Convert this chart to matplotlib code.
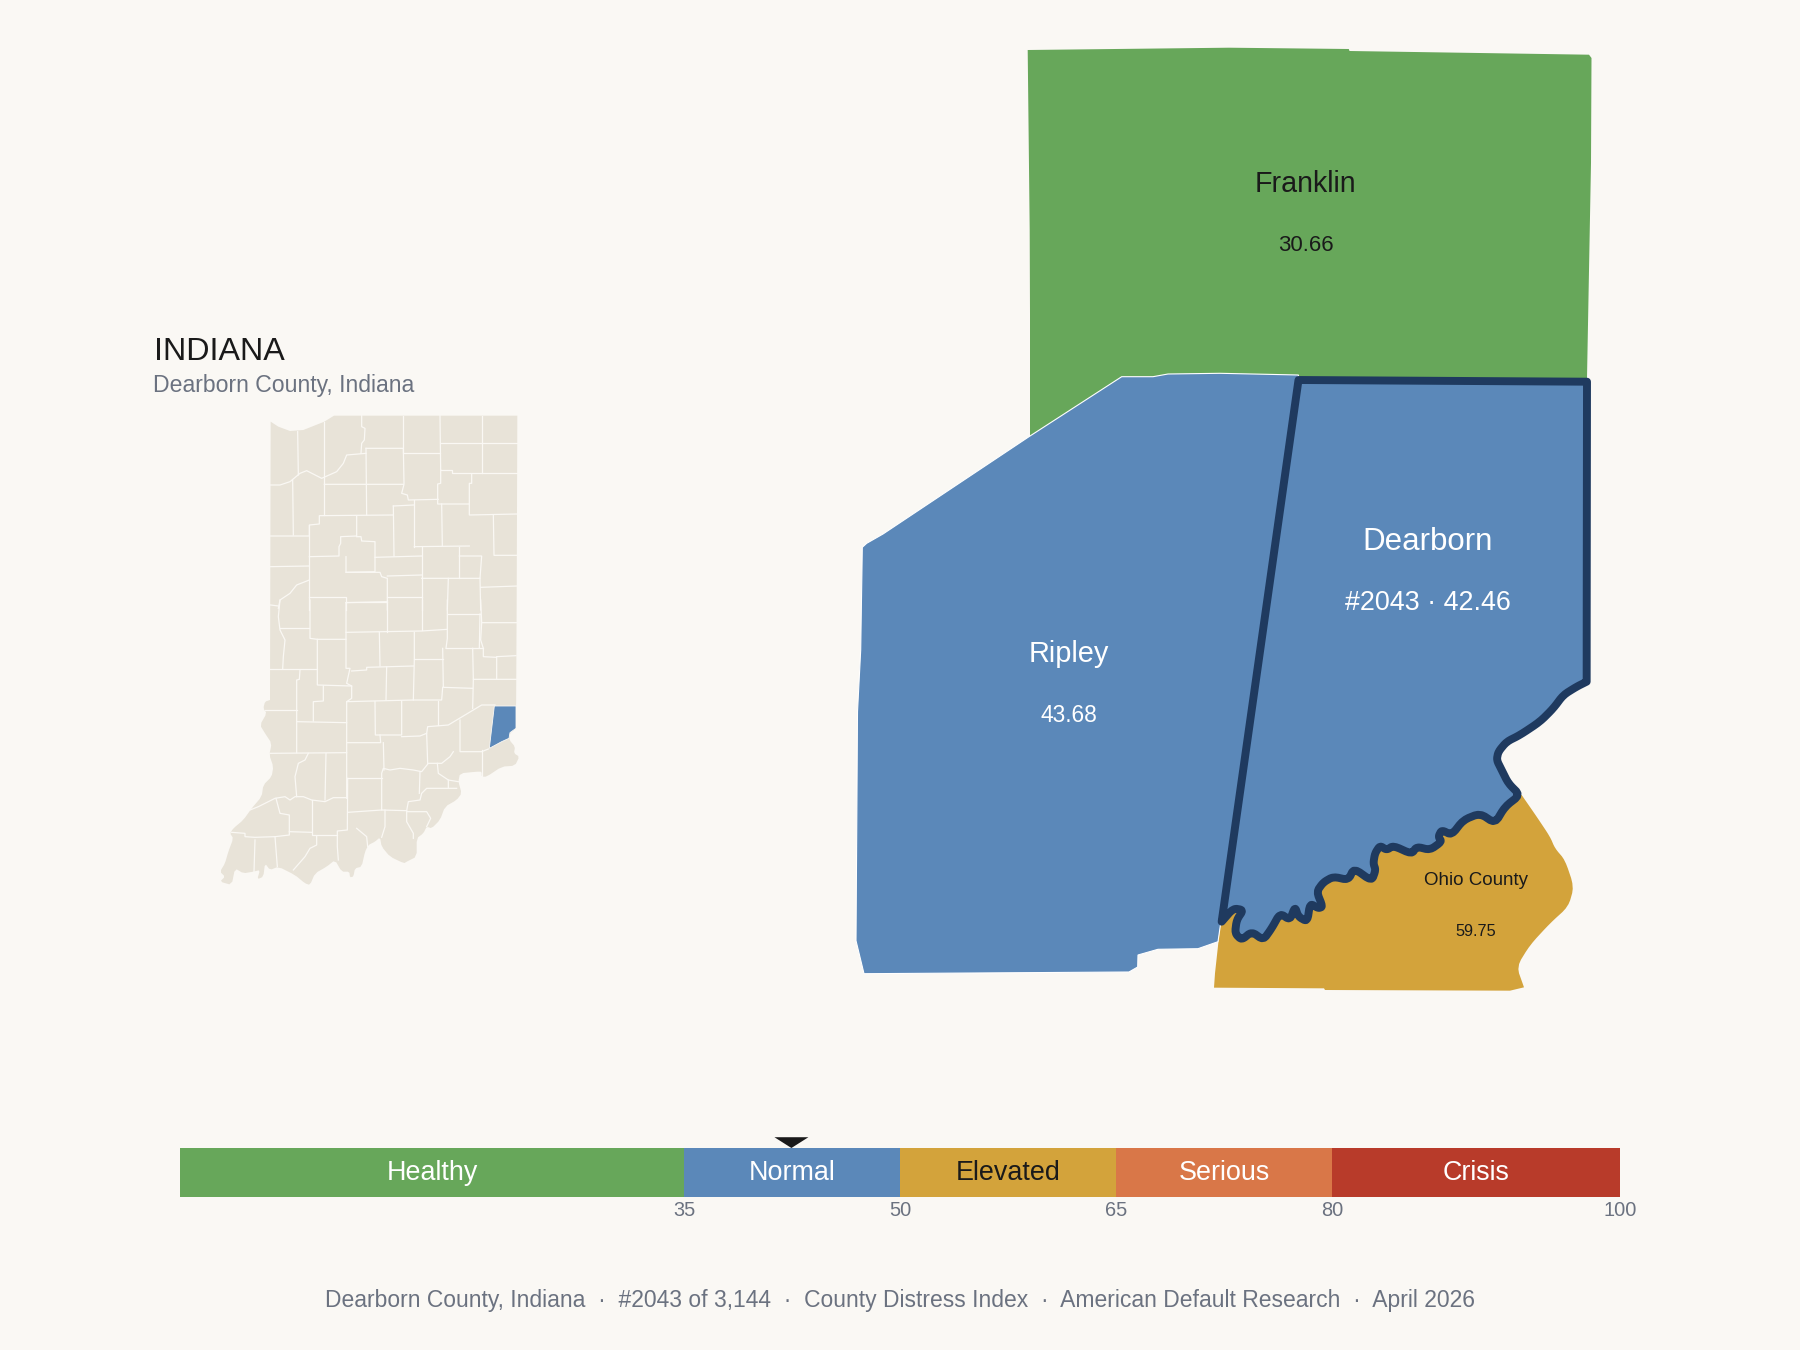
import matplotlib
matplotlib.use("Agg")
import matplotlib.pyplot as plt

plt.rcParams['font.family'] = ['Liberation Sans', 'DejaVu Sans']

BG = '#FAF8F4'; LAND = '#E8E3D8'; GREEN = '#67A75A'; BLUE = '#5B88B9'; GOLD = '#D3A33B'
ORANGE = '#D97748'; RED = '#B83B2A'; NAVY = '#1F3A5F'; INK = '#1A1A1A'; GRAY = '#6B7280'

# ---------- score scale ----------
band_edges = [0, 35, 50, 65, 80, 100]
band_names = ['Healthy', 'Normal', 'Elevated', 'Serious', 'Crisis']
band_colors = [GREEN, BLUE, GOLD, ORANGE, RED]
band_text = ['white', 'white', INK, 'white', 'white']
tick_values = [35, 50, 65, 80, 100]
county_score = 42.46

# ---------- neighbouring counties (map units) ----------
franklin = [(1027.7,50),(1229,47.7),(1348.8,49),(1349.5,51),(1589,54.7),(1591.5,58),(1591,163),(1587,378),
            (1587,392),(1300,392),(1121,392),(1030,437),(1030,313),(1029.7,230)]
ripley = [(1030,436),(1121.7,376.7),(1153,376.7),(1168,374),(1220,373.3),(1298.5,375),(1221,921),(1218,941.7),
          (1198,948.7),(1158,949.3),(1138,955),(1137.7,967),(1129,972),(864,973.7),(856,940.7),(857.5,711.8),
          (860.7,650),(862.3,547.3),(866.7,543.3),(883,534)]
# river edge of Dearborn, traced on a 3x crop
river_crop = [(1160,5),(1130,20),(1090,45),(1060,85),(1020,125),(960,165),(920,185),(895,215),(890,240),(905,270),
              (925,310),(960,345),(915,380),(885,430),(840,400),(790,420),(755,465),(725,450),(715,470),(725,485),
              (690,510),(650,500),(635,522),(580,497),(560,510),(540,497),(525,520),(520,550),(527,570),(515,603),
              (462,565),(445,600),(400,590),(370,607),(350,635),(368,680),(355,685),(330,670),(322,725),(295,710),
              (285,680),(270,720),(240,700),(215,745),(190,780),(155,755),(125,780),(105,760),(110,720),(130,690),
              (100,685),(65,725)]
ohio_east_crop = [(965,345),(1010,410),(1050,470),(1065,505),(1095,540),(1122,620),(1105,680),(1050,730),(990,795),
                  (950,860),(972,922)]
ohio_south_crop = [(930,932),(375,930),(372,925),(42,923),(45,880),(62,725),(400,400)]
dearborn_top = [(1298.5,380),(1587,381.7),(1586.7,620)]

def from_crop(pts, x0, y0):
    return [(x0 + x / 3, y0 + y / 3) for x, y in pts]

def soften(pts, rounds=1):
    """Round the corners of a hand-traced outline, keeping its end points."""
    for _ in range(rounds):
        out = [pts[0]]
        for (x0, y0), (x1, y1) in zip(pts[:-1], pts[1:]):
            out.append((0.8 * x0 + 0.2 * x1, 0.8 * y0 + 0.2 * y1))
            out.append((0.2 * x0 + 0.8 * x1, 0.2 * y0 + 0.8 * y1))
        out.append(pts[-1])
        pts = out
    return pts

river = soften(from_crop(river_crop, 1200, 680), 2)
ohio = soften(from_crop(ohio_east_crop, 1200, 680), 2) + from_crop(ohio_south_crop, 1200, 680)
dearborn = dearborn_top + river

labels = [('Franklin', '30.66', 1305.5, 181, 243, 20.6, 16.0, INK),
          ('Ripley', '43.68', 1069, 651, 712.5, 20.8, 16.4, 'white'),
          ('Dearborn', '#2043 · 42.46', 1427.5, 538, 600, 22.5, 19.4, 'white'),
          ('Ohio County', '59.75', 1476, 878.5, 930, 13.5, 11.7, INK)]

# ---------- Indiana locator (crops 3x) ----------
state_top = [(422,305),(445,320),(480,333),(520,330),(583,305),(612,287),(1162,287)]
state_bottom = [(950,0),(948,385),(930,400),(928,420),(945,440),(942,460),(958,470),(945,497),(905,500),(860,530),
    (845,530),(845,515),(830,515),(780,520),(775,545),(785,580),(770,600),(735,620),(720,660),(695,685),(680,680),
    (670,700),(650,715),(650,770),(620,785),(612,790),(570,770),(545,740),(540,712),(525,725),(505,735),(495,755),
    (485,800),(465,805),(460,830),(450,832),(448,815),(425,815),(405,780),(380,800),(345,820),(330,855),(315,850),
    (285,825),(235,800),(210,810),(195,790),(190,830),(172,838),(180,810),(160,815),(130,820),(105,805),(95,855),
    (60,845),(75,830),(60,815),(75,790),(85,755),(100,715),(90,700),(100,685),(130,660),(155,625),(185,590),(190,555),
    (215,530),(220,500),(208,465),(215,430),(195,400),(180,375),(200,340),(190,325),(195,305),(210,300)]
dearborn_small = [(883,318),(948,318),(948,385),(930,398),(927,415),(905,425),(868,445)]

lines_north = [
    [(503,335),(505,465)],
    [(422,495),(450,495),(480,485),(510,460),(530,452),(575,475),(620,455),(640,430),(650,405),(708,400)],
    [(583,305),(583,585)],
    [(695,287),(695,320),(705,325),(703,360),(695,370),(693,400)],
    [(820,287),(820,400)], [(930,287),(932,450)], [(1057,287),(1057,460)], [(932,368),(1162,368)],
    [(708,385),(820,385),(822,490)], [(822,400),(930,400)], [(708,385),(710,585)],
    [(583,493),(822,493),(815,520),(832,525),(835,540),(925,538)], [(853,540),(853,680)],
    [(932,450),(965,450),(965,460),(1162,460)],
    [(932,450),(932,490),(923,492),(923,552),(1018,552),(1018,490),(1025,490),(1025,462)],
    [(488,480),(490,645)],
    [(422,648),(538,648),(538,615),(568,612),(568,587),(790,585)],
    [(790,558),(850,555)], [(790,558),(792,708)],
    [(680,587),(680,648),(632,650),(632,670),(627,680),(627,708),(538,710)],
    [(538,615),(538,870)],
    [(680,650),(693,650),(695,663),(735,665),(735,755),(648,757),(648,710)],
    [(935,552),(937,678)], [(1018,552),(1018,585),(1162,582)], [(853,680),(1018,678)], [(875,680),(875,870)],
    [(988,680),(988,775)], [(1090,585),(1092,706),(1162,706)], [(988,708),(1055,708),(1050,775),(875,775)],
    [(735,712),(875,708)], [(648,757),(750,757),(755,770),(772,775),(772,870)],
    [(772,768),(875,765)], [(772,832),(875,832)], [(648,845),(772,845)], [(538,832),(648,832),(648,870)],
    [(422,740),(538,738)], [(538,780),(500,795),(480,820),(450,840),(445,865)], [(422,855),(445,858)],
    [(955,775),(952,870)], [(1050,775),(1052,870)], [(1052,802),(1162,798)],
]
lines_south = [
    [(240,0),(235,50),(240,90),(255,120),(250,170),(248,208)], [(240,85),(328,85)],
    [(330,0),(330,115),(352,118),(438,118)], [(438,8),(560,5)],
    [(438,8),(438,205),(450,205),(440,250),(455,258),(455,295),(440,305),(440,595)],
    [(562,0),(562,97)], [(665,0),(665,90)], [(742,0),(742,115),(738,145)], [(438,97),(665,93),(742,88)],
    [(743,42),(840,42)], [(842,0),(845,68),(950,68)], [(845,68),(842,120),(850,145),(850,170),(890,172),(890,238)],
    [(890,170),(948,167)], [(738,145),(850,145)], [(840,42),(838,145)], [(728,145),(730,262),(818,265)],
    [(818,145),(820,238),(950,238)], [(820,238),(818,325)], [(643,97),(643,178),(640,300)], [(643,178),(728,178)],
    [(538,97),(540,198)], [(455,213),(500,210),(500,202),(640,198)], [(560,200),(558,300)],
    [(728,262),(725,300),(640,300),(440,305)], [(352,118),(352,255),(455,258)], [(352,208),(210,208)],
    [(300,210),(298,238),(290,240),(290,458)], [(370,258),(370,303),(340,305),(340,363)], [(290,330),(195,330)],
    [(290,365),(440,368)], [(210,460),(440,458)], [(525,305),(526,405),(605,405),(605,303)], [(713,303),(713,375)],
    [(605,410),(660,408),(680,400),(683,380),(745,375),(845,315),(885,315)], [(680,400),(683,490)],
    [(540,405),(542,428),(442,428)], [(550,428),(552,510)], [(442,535),(545,535)],
    [(780,360),(780,455),(845,455),(865,447)], [(845,450),(845,530)],
    [(760,455),(750,470),(725,490),(685,490),(665,515),(640,510),(600,505),(570,510),(550,505),(545,520),(545,630),
     (620,632),(625,605),(660,600),(665,580),(680,565),(770,565)],
    [(660,515),(658,580)], [(712,490),(715,520),(745,540),(745,565)], [(745,540),(775,545)], [(545,630),(443,637)],
    [(443,535),(442,690),(412,693),(412,740),(415,780)], [(555,630),(555,680),(545,712)],
    [(470,685),(500,710),(503,740)], [(620,632),(620,665),(640,700),(640,715)],
    [(620,635),(680,635),(692,655),(680,680)], [(325,460),(315,480),(295,490),(285,530),(290,590)],
    [(378,460),(375,600)],
    [(150,630),(175,620),(225,595),(255,590),(270,600),(285,590),(310,590),(335,600),(375,605),(400,593),(440,593)],
    [(228,595),(240,640),(268,645),(268,705),(225,710),(165,712),(135,710),(135,700),(95,697)],
    [(268,695),(335,697)], [(335,600),(335,705),(412,705)], [(165,720),(162,815)], [(225,710),(232,800)],
    [(350,708),(350,735),(330,745),(315,770),(280,810)],
]

title_text = 'INDIANA'
subtitle_text = 'Dearborn County, Indiana'
footer_text = ('Dearborn County, Indiana  ·  #2043 of 3,144  ·  County Distress Index  ·  '
               'American Default Research  ·  April 2026')

# ---------- figure ----------
fig = plt.figure(figsize=(18, 13.5), dpi=100, facecolor=BG)
ax = fig.add_axes([0, 0, 1, 1])
ax.set_xlim(0, 1800); ax.set_ylim(1350, 0); ax.axis('off')

state = from_crop(state_top, 130, 320) + soften(from_crop(state_bottom, 200, 600), 1)
ax.fill(*zip(*state), facecolor=LAND, edgecolor='none')
for seg in lines_north:
    ax.plot(*zip(*from_crop(seg, 130, 320)), color=BG, lw=0.9, solid_joinstyle='round')
for seg in lines_south:
    ax.plot(*zip(*from_crop(seg, 200, 600)), color=BG, lw=0.9, solid_joinstyle='round')
ax.fill(*zip(*from_crop(dearborn_small, 200, 600)), facecolor=BLUE, edgecolor=BG, lw=0.6)

ax.text(154, 349, title_text, fontsize=23.2, color=INK, ha='left', va='center_baseline')
ax.text(153, 383, subtitle_text, fontsize=16.55, color=GRAY, ha='left', va='center_baseline')

ax.fill(*zip(*franklin), facecolor=GREEN, edgecolor='none')
ax.fill(*zip(*ohio), facecolor=GOLD, edgecolor='none')
ax.fill(*zip(*ripley), facecolor=BLUE, edgecolor='white', lw=0.8)
ax.fill(*zip(*dearborn), facecolor=BLUE, edgecolor=NAVY, lw=5.7, joinstyle='round')

for name, value, x, y1, y2, s1, s2, col in labels:
    ax.text(x, y1, name, fontsize=s1, color=col, ha='center', va='center_baseline')
    ax.text(x, y2, value, fontsize=s2, color=col, ha='center', va='center_baseline')

ax.text(900, 1298, footer_text, fontsize=16.5, color=GRAY, ha='center', va='center_baseline')

# score bar
sc = fig.add_axes([180 / 1800, 1 - 1197 / 1350, 1440 / 1800, 49 / 1350])
sc.set_xlim(0, 100); sc.set_ylim(0, 1); sc.axis('off')
for i, name in enumerate(band_names):
    lo, hi = band_edges[i], band_edges[i + 1]
    sc.barh(0.5, hi - lo, left=lo, height=1, color=band_colors[i], linewidth=0)
    sc.text((lo + hi) / 2, 0.55, name, fontsize=19.4, color=band_text[i], ha='center', va='center_baseline')
for t in tick_values:
    sc.text(t, -0.23, str(t), fontsize=14.4, color=GRAY, ha='center', va='center_baseline', clip_on=False)
sc.fill([county_score - 1.18, county_score + 1.18, county_score], [1.22, 1.22, 1.0],
        color=INK, clip_on=False, linewidth=0)

fig.savefig('out.png', dpi=100, facecolor=BG)
